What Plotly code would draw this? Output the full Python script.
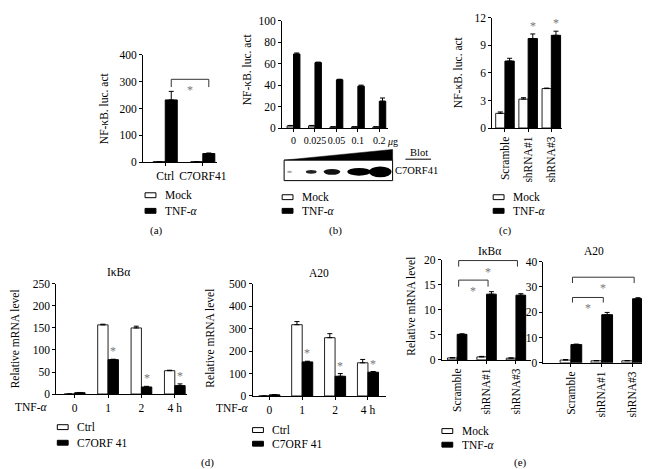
import plotly.graph_objects as go

# ---------------- data ----------------
a_cats = ["Ctrl", "C7ORF41"]
a_mock = [2, 2]
a_mock_err = [0, 0]
a_tnf = [232, 32]
a_tnf_err = [32, 2]

b_cats = ["0", "0.025", "0.05", "0.1", "0.2"]
b_unit = "<i>μ</i>g"
b_mock = [2, 2, 1, 1, 1]
b_mock_err = [0.4, 0.4, 0, 0, 0]
b_tnf = [69, 61, 45, 39, 25]
b_tnf_err = [1, 0.5, 0.5, 1, 3]

c_cats = ["Scramble", "shRNA#1", "shRNA#3"]
c_mock = [1.6, 3.15, 4.3]
c_mock_err = [0.15, 0.15, 0.05]
c_tnf = [7.3, 9.75, 10.1]
c_tnf_err = [0.3, 0.5, 0.45]
c_sig = [False, True, True]

d_cats = ["0", "1", "2", "4 h"]
d_ikba_ctrl = [0, 157, 150, 53]
d_ikba_ctrl_err = [0, 1.5, 4, 1]
d_ikba_c7 = [3, 78, 16, 19]
d_ikba_c7_err = [0.5, 1, 1.5, 4]
d_a20_ctrl = [0, 318, 260, 148]
d_a20_ctrl_err = [0, 14, 18, 15]
d_a20_c7 = [5, 152, 88, 106]
d_a20_c7_err = [1, 3, 12, 3]
d_sig = [False, True, True, True]

e_cats = ["Scramble", "shRNA#1", "shRNA#3"]
e_ikba_mock = [0.4, 0.6, 0.35]
e_ikba_mock_err = [0.05, 0.1, 0.05]
e_ikba_tnf = [5.1, 13.1, 12.9]
e_ikba_tnf_err = [0.1, 0.5, 0.3]
e_a20_mock = [1.1, 0.8, 0.8]
e_a20_mock_err = [0.2, 0.1, 0.1]
e_a20_tnf = [7.2, 19, 25.3]
e_a20_tnf_err = [0.2, 0.9, 0.4]

# brackets: (from group, to group, top, bottom)
a_brackets = [(0, 1, 309, 280)]
e_ikba_brackets = [(0, 1, 15.9, 14.6), (0, 2, 19.8, 18.6)]
e_a20_brackets = [(0, 1, 25.8, 23.8), (0, 2, 33.8, 31.5)]

# ---------------- layout helpers ----------------
W, H = 650, 469
FONT = "Liberation Serif"
TICK = 11.5
STAR = "#777"


def px(x):
    return x / W


def py(y):
    return 1 - y / H


panels = [
    dict(dx=(137, 212), dy=(42, 152), ymax=400, dtick=100, xr=(-0.59, 1.38), w=0.32,
         cats=a_cats, s1=a_mock, e1=a_mock_err, s2=a_tnf, e2=a_tnf_err, angle=0,
         sig=None, br=a_brackets, xfs=TICK),
    dict(dx=(278, 385), dy=(7, 117), ymax=100, dtick=20, xr=(-0.53, 4.39), w=0.3,
         cats=b_cats, s1=b_mock, e1=b_mock_err, s2=b_tnf, e2=b_tnf_err, angle=0,
         sig=None, br=[], xfs=10),
    dict(dx=(491, 562), dy=(4, 117), ymax=12, dtick=3, xr=(-0.55, 2.47), w=0.4,
         cats=c_cats, s1=c_mock, e1=c_mock_err, s2=c_tnf, e2=c_tnf_err, angle=-90,
         sig=c_sig, br=[], xfs=TICK),
    dict(dx=(49, 182), dy=(277, 390), ymax=250, dtick=50, xr=(-0.55, 3.38), w=0.31,
         cats=d_cats, s1=d_ikba_ctrl, e1=d_ikba_ctrl_err, s2=d_ikba_c7, e2=d_ikba_c7_err,
         angle=0, sig=d_sig, br=[], xfs=TICK),
    dict(dx=(248, 383), dy=(277, 392), ymax=500, dtick=100, xr=(-0.51, 3.54), w=0.32,
         cats=d_cats, s1=d_a20_ctrl, e1=d_a20_ctrl_err, s2=d_a20_c7, e2=d_a20_c7_err,
         angle=0, sig=d_sig, br=[], xfs=TICK),
    dict(dx=(440, 530), dy=(252, 355), ymax=20, dtick=5, xr=(-0.52, 2.5), w=0.33,
         cats=e_cats, s1=e_ikba_mock, e1=e_ikba_mock_err, s2=e_ikba_tnf, e2=e_ikba_tnf_err,
         angle=-90, sig=None, br=e_ikba_brackets, xfs=TICK),
    dict(dx=(543, 649), dy=(254, 358), ymax=40, dtick=10, xr=(-0.89, 2.5), w=0.35,
         cats=e_cats, s1=e_a20_mock, e1=e_a20_mock_err, s2=e_a20_tnf, e2=e_a20_tnf_err,
         angle=-90, sig=None, br=e_a20_brackets, xfs=TICK),
]

fig = go.Figure()
layout = dict(
    width=W, height=H, margin=dict(l=0, r=0, t=0, b=0),
    paper_bgcolor="white", plot_bgcolor="white",
    barmode="overlay", showlegend=False,
    font=dict(family=FONT, size=11, color="black"),
)
annotations = []
shapes = []

for k, p in enumerate(panels, start=1):
    xa = "x" if k == 1 else f"x{k}"
    ya = "y" if k == 1 else f"y{k}"
    xkey = "xaxis" if k == 1 else f"xaxis{k}"
    ykey = "yaxis" if k == 1 else f"yaxis{k}"
    n = len(p["cats"])
    idx = list(range(n))
    w = p["w"]
    fig.add_trace(go.Bar(
        x=idx, y=p["s1"], xaxis=xa, yaxis=ya, width=w, offset=-w,
        marker=dict(color="white", line=dict(color="#222", width=1)),
        error_y=dict(type="data", array=p["e1"], arrayminus=[0] * n, symmetric=False,
                     color="black", thickness=1, width=2.5),
    ))
    fig.add_trace(go.Bar(
        x=idx, y=p["s2"], xaxis=xa, yaxis=ya, width=w, offset=0,
        marker=dict(color="black", line=dict(color="black", width=1)),
        error_y=dict(type="data", array=p["e2"], arrayminus=[0] * n, symmetric=False,
                     color="black", thickness=1, width=2.5),
    ))
    layout[xkey] = dict(
        domain=[px(p["dx"][0]), px(p["dx"][1])], anchor=ya, range=list(p["xr"]),
        tickmode="array", tickvals=idx, ticktext=p["cats"], tickangle=p["angle"],
        showline=True, linecolor="black", linewidth=1, ticks="outside", ticklen=3,
        tickcolor="black", showgrid=False, zeroline=False,
        tickfont=dict(family=FONT, size=p["xfs"], color="black"),
        fixedrange=True,
    )
    layout[ykey] = dict(
        domain=[py(p["dy"][1]), py(p["dy"][0])], anchor=xa, range=[0, p["ymax"]],
        dtick=p["dtick"], tick0=0,
        showline=True, linecolor="black", linewidth=1, ticks="outside", ticklen=3,
        tickcolor="black", showgrid=False, zeroline=False,
        tickfont=dict(family=FONT, size=TICK, color="black"), fixedrange=True,
    )
    # significance stars above bars
    if p["sig"]:
        for i, s in enumerate(p["sig"]):
            if s:
                annotations.append(dict(
                    x=i + w / 2, y=p["s2"][i] + p["e2"][i], xref=xa, yref=ya,
                    text="*", showarrow=False, yanchor="bottom", yshift=-1,
                    font=dict(family=FONT, size=12, color=STAR),
                ))
    # brackets
    for (i, j, top, bot) in p["br"]:
        off = w / 2 if k == 1 else 0.05
        x0, x1 = i + off, j + off
        fig.add_trace(go.Scatter(
            x=[x0, x0, x1, x1], y=[bot, top, top, bot], xaxis=xa, yaxis=ya,
            mode="lines", line=dict(color="#333", width=1), hoverinfo="skip",
        ))
        annotations.append(dict(
            x=(x0 + x1) / 2, y=top, xref=xa, yref=ya, text="*", showarrow=False,
            yanchor="top", yshift=-2, font=dict(family=FONT, size=12, color=STAR),
        ))


def ann(x, y, text, size=11, angle=0, xanchor="center", color="black"):
    annotations.append(dict(
        x=px(x), y=py(y), xref="paper", yref="paper", text=text, showarrow=False,
        textangle=angle, xanchor=xanchor, yanchor="middle",
        font=dict(family=FONT, size=size, color=color),
    ))


# unit after the last dose label in (b)
annotations.append(dict(
    x=len(b_cats) - 1, y=0, xref="x2", yref="y2", text=b_unit, showarrow=False,
    xanchor="left", yanchor="top", xshift=6, yshift=-6,
    font=dict(family=FONT, size=10, color="black"),
))

# axis titles
ann(97, 97, "NF-κB. luc. act", size=11.5, angle=-90)
ann(242, 57, "NF-κB. luc. act", size=11.5, angle=-90)
ann(457, 60, "NF-κB. luc. act", size=11.5, angle=-90)
ann(8, 333, "Relative mRNA level", size=11.5, angle=-90)
ann(205, 333, "Relative mRNA level", size=11.5, angle=-90)
ann(409, 300, "Relative mRNA level", size=11.5, angle=-90)

# panel titles
ann(112, 265, "IκBα", size=11.5)
ann(315, 266, "A20", size=11.5)
ann(488, 243, "IκBα", size=11.5)
ann(594, 243, "A20", size=11.5)

# TNF-α row labels
ann(24, 403, "TNF-<i>α</i>", size=11.5)
ann(228, 404, "TNF-<i>α</i>", size=11.5)

# panel letters
ann(151, 222, "(a)")
ann(332, 222, "(b)")
ann(504, 222, "(c)")
ann(202, 460, "(d)")
ann(520, 460, "(e)")

# legends (drawn)
legends = [
    (139, 186, 202, "Mock", "TNF-<i>α</i>"),
    (278, 188, 202, "Mock", "TNF-<i>α</i>"),
    (492, 188, 202, "Mock", "TNF-<i>α</i>"),
    (50, 424, 440, "Ctrl", "C7ORF 41"),
    (248, 427, 441, "Ctrl", "C7ORF 41"),
    (440, 428, 442, "Mock", "TNF-<i>α</i>"),
]
for (lx, y1, y2, t1, t2) in legends:
    for (yy, fill, t) in [(y1, "white", t1), (y2, "black", t2)]:
        shapes.append(dict(type="rect", xref="paper", yref="paper",
                           x0=px(lx), x1=px(lx + 11), y0=py(yy + 2.5), y1=py(yy - 2.5),
                           fillcolor=fill, line=dict(color="black", width=1)))
        ann(lx + 18, yy, t, size=11.5, xanchor="left")


# western blot decoration in (b)
def path(points):
    return "M " + " L ".join(f"{px(x)},{py(y)}" for x, y in points) + " Z"


shapes.append(dict(type="path", xref="paper", yref="paper",
                   path=path([(280, 150), (390, 139), (390, 150)]),
                   fillcolor="black", line=dict(color="black", width=0.5)))
shapes.append(dict(type="rect", xref="paper", yref="paper",
                   x0=px(280), x1=px(390), y0=py(171), y1=py(150),
                   fillcolor="white", line=dict(color="black", width=1)))
bands = [(283, 288, 1.2, "#aaa"), (302, 313, 2.0, "#222"), (320, 337, 3.0, "#111"),
         (344, 368, 4.0, "black"), (366, 389, 5.5, "black")]
for (b0, b1, hh, col) in bands:
    shapes.append(dict(type="circle", xref="paper", yref="paper",
                       x0=px(b0), x1=px(b1), y0=py(162 + hh), y1=py(162 - hh),
                       fillcolor=col, line=dict(width=0)))
ann(417, 142, "Blot", size=10.5)
shapes.append(dict(type="line", xref="paper", yref="paper",
                   x0=px(403), x1=px(429), y0=py(149), y1=py(149),
                   line=dict(color="black", width=1)))
ann(390, 161, "C7ORF41", size=10.5, xanchor="left")

layout["annotations"] = annotations
layout["shapes"] = shapes
fig.update_layout(**layout)
fig.write_html("out.html")
